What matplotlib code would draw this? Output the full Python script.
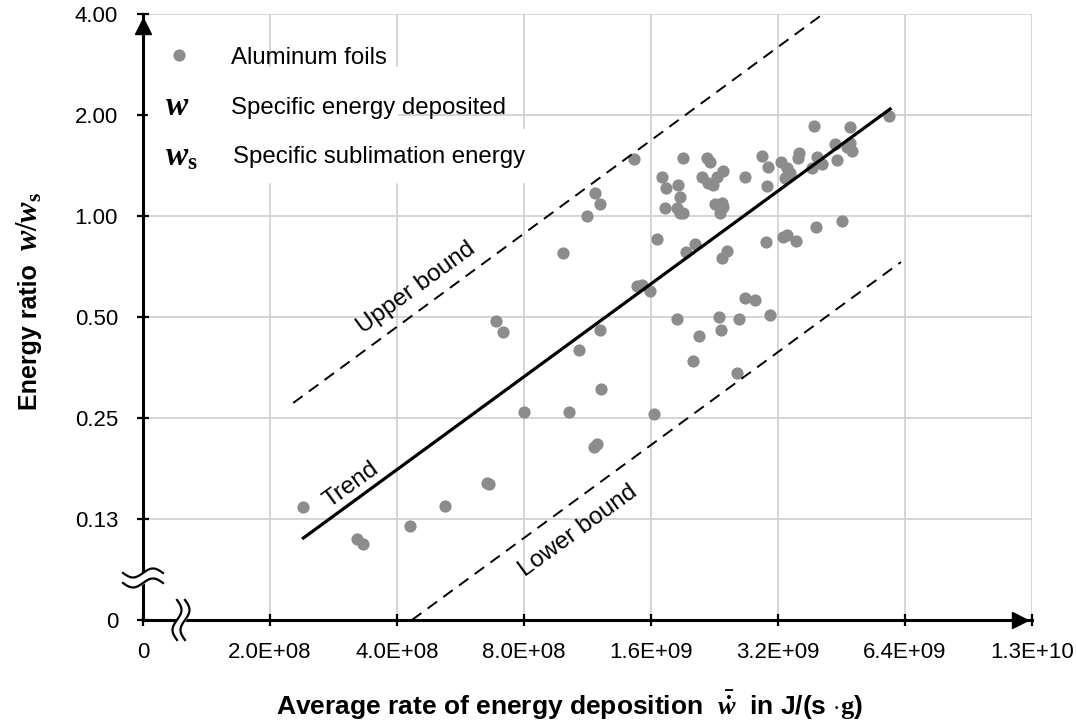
import numpy as np
import matplotlib
matplotlib.use("Agg")
import matplotlib.pyplot as plt
from matplotlib.patches import Rectangle

plt.rcParams['font.family'] = ['Liberation Sans', 'DejaVu Sans']
plt.rcParams['mathtext.fontset'] = 'custom'
plt.rcParams['mathtext.it'] = 'Liberation Serif:italic:bold'
plt.rcParams['mathtext.rm'] = 'Liberation Serif:bold'
plt.rcParams['mathtext.bf'] = 'Liberation Serif:bold'

# aluminum foil measurements: rate in J/(s*g), energy ratio w/ws
rate = [5.86e9, 3.89e9, 4.74e9, 4.37e9, 4.74e9, 4.79e9, 4.66e9, 4.42e9, 4.07e9, 3.96e9,
        3.85e9, 3.59e9, 3.57e9, 3.25e9, 3.36e9, 3.42e9, 3.32e9, 2.93e9, 3.03e9, 3.01e9,
        2.67e9, 2.37e9, 2.17e9, 2.21e9, 2.11e9, 2.18e9, 2.24e9, 2.29e9, 2.27e9, 2.36e9,
        2.37e9, 2.33e9, 1.91e9, 1.70e9, 1.74e9, 1.85e9, 1.87e9, 1.73e9, 1.84e9, 1.87e9,
        1.91e9, 1.46e9, 1.18e9, 1.21e9, 1.13e9, 9.90e8, 1.65e9, 1.94e9, 2.03e9, 2.36e9,
        2.42e9, 3.00e9, 3.29e9, 3.36e9, 3.53e9, 3.94e9, 4.54e9, 1.48e9, 1.52e9, 1.59e9,
        2.67e9, 2.82e9, 1.21e9, 1.08e9, 1.84e9, 2.32e9, 2.59e9, 3.06e9, 2.34e9, 2.08e9,
        2.01e9, 2.56e9, 1.22e9, 1.02e9, 1.63e9, 1.19e9, 1.17e9, 6.87e8, 7.14e8, 8.00e8,
        6.54e8, 6.61e8, 5.20e8, 2.39e8, 4.29e8, 3.22e8, 3.32e8]
ratio = [1.99, 1.854, 1.842, 1.639, 1.651, 1.563, 1.606, 1.468, 1.429, 1.499,
         1.390, 1.541, 1.489, 1.449, 1.390, 1.343, 1.298, 1.509, 1.400, 1.229,
         1.307, 1.362, 1.489, 1.449, 1.307, 1.254, 1.237, 1.307, 1.086, 1.093,
         1.064, 1.021, 1.489, 1.307, 1.212, 1.237, 1.139, 1.056, 1.056, 1.021,
         1.021, 1.479, 1.171, 1.086, 1.000, 0.776, 0.854, 0.781, 0.825, 0.750,
         0.786, 0.837, 0.866, 0.878, 0.842, 0.927, 0.966, 0.619, 0.623, 0.598,
         0.570, 0.562, 0.457, 0.399, 0.493, 0.500, 0.493, 0.507, 0.457, 0.439,
         0.370, 0.341, 0.305, 0.260, 0.257, 0.209, 0.205, 0.486, 0.451, 0.260,
         0.160, 0.159, 0.137, 0.136, 0.119, 0.109, 0.105]

trend_x, trend_y = [2.40e8, 5.90e9], [0.1097, 2.084]
upper_x, upper_y = [2.27e8, 4.09e9], [0.2771, 4.0]
lower_x, lower_y = [4.34e8, 6.26e9], [0.0625, 0.729]

xticks = [1e8, 2e8, 4e8, 8e8, 1.6e9, 3.2e9, 6.4e9, 1.28e10]
xlabels = ["0", "2.0E+08", "4.0E+08", "8.0E+08", "1.6E+09", "3.2E+09", "6.4E+09", "1.3E+10"]
yticks = [0.0625, 0.125, 0.25, 0.5, 1, 2, 4]
ylabels = ["0", "0.13", "0.25", "0.50", "1.00", "2.00", "4.00"]

fig = plt.figure(figsize=(10.76, 7.22), dpi=100)
ax = fig.add_axes([0.1329, 0.1413, 0.8262, 0.8393])
ax.set_xscale('log', base=2)
ax.set_yscale('log', base=2)
ax.set_xlim(xticks[0], xticks[-1])
ax.set_ylim(yticks[0], yticks[-1])
ax.set_xticks(xticks, xlabels)
ax.set_yticks(yticks, ylabels)
ax.minorticks_off()
ax.grid(True, color='#d2d2d2', lw=1.3, zorder=0)
ax.set_axisbelow(True)

for s in ['top', 'right']:
    ax.spines[s].set_visible(False)
for s in ['left', 'bottom']:
    ax.spines[s].set_linewidth(2.2)
ax.tick_params(direction='inout', length=9, width=1.6, labelsize=16, colors='black')
ax.tick_params(axis='x', pad=11)
ax.tick_params(axis='y', pad=13.5)

ax.plot(rate, ratio, 'o', color='#8c8c8c', ms=8.8, mec='none', zorder=3)
ax.plot(trend_x, trend_y, '-', color='black', lw=2.3, zorder=4)
ax.plot(upper_x, upper_y, '--', color='black', lw=1.4, dashes=(6, 4), zorder=4)
ax.plot(lower_x, lower_y, '--', color='black', lw=1.4, dashes=(6, 4), zorder=4)

# arrow heads on axes
ax.plot(0.9865, 0, marker='>', color='black', ms=11, transform=ax.transAxes, clip_on=False, zorder=6)
ax.plot(0, 0.980, marker='^', color='black', ms=11, transform=ax.transAxes, clip_on=False, zorder=6)

# axis break marks
W, H = 889.0, 606.0
t = np.linspace(-1, 1, 60)
yb = (620 - 578) / H
a = 20 * t / W
top = yb + (5 + 4.5 * np.sin(np.pi * t)) / H
bot = yb + (-5 + 4.5 * np.sin(np.pi * t)) / H
ax.fill_between(a, bot, top, color='white', transform=ax.transAxes, clip_on=False, zorder=7)
ax.plot(a, top, color='black', lw=1.6, transform=ax.transAxes, clip_on=False, zorder=8)
ax.plot(a, bot, color='black', lw=1.6, transform=ax.transAxes, clip_on=False, zorder=8)
xb = (181 - 143) / W
b = 20 * t / H
left = xb + (-4 + 4.5 * np.sin(np.pi * t)) / W
right = xb + (4 + 4.5 * np.sin(np.pi * t)) / W
ax.fill_betweenx(b, left, right, color='white', transform=ax.transAxes, clip_on=False, zorder=7)
ax.plot(left, b, color='black', lw=1.6, transform=ax.transAxes, clip_on=False, zorder=8)
ax.plot(right, b, color='black', lw=1.6, transform=ax.transAxes, clip_on=False, zorder=8)

# legend box
ax.add_patch(Rectangle((0.006, 0.723), 0.28, 0.19, transform=ax.transAxes, color='white', zorder=1))
ax.add_patch(Rectangle((0.006, 0.723), 0.44, 0.088, transform=ax.transAxes, color='white', zorder=1))
ax.plot(0.0405, 0.932, 'o', color='#8c8c8c', ms=8.8, mec='none', transform=ax.transAxes, zorder=3)
ax.text(0.099, 0.927, "Aluminum foils", fontsize=17.3, va='center', transform=ax.transAxes)
ax.text(0.0383, 0.847, r"$w$", fontsize=24, ha='center', va='center', transform=ax.transAxes)
ax.text(0.099, 0.845, "Specific energy deposited", fontsize=17.3, va='center', transform=ax.transAxes)
ax.text(0.0436, 0.764, r"$w_{\mathrm{s}}$", fontsize=24, ha='center', va='center', transform=ax.transAxes)
ax.text(0.101, 0.764, "Specific sublimation energy", fontsize=17.3, va='center', transform=ax.transAxes)

# line labels
ax.text(0.307, 0.548, "Upper bound", fontsize=17.5, rotation=36, ha='center', va='center',
        rotation_mode='anchor', transform=ax.transAxes)
ax.text(0.234, 0.223, "Trend", fontsize=17.5, rotation=36, ha='center', va='center',
        rotation_mode='anchor', transform=ax.transAxes)
ax.text(0.490, 0.147, "Lower bound", fontsize=17.5, rotation=36, ha='center', va='center',
        rotation_mode='anchor', transform=ax.transAxes)

# axis titles
fig.text(30 / 1076, 1 - 337 / 722, "Energy ratio", fontsize=18, fontweight='bold', rotation=90,
         ha='center', va='center')
fig.text(30 / 1076, 1 - 222 / 722, r"$w/w_{\mathrm{s}}$", fontsize=22, rotation=90,
         ha='center', va='center')
fig.text(569 / 1076, 1 - 705 / 722,
         r"Average rate of energy deposition  $\bar{\dot{w}}$  in J/(s $\cdot\mathrm{g}$)",
         fontsize=19, fontweight='bold', ha='center', va='center')

fig.savefig("out.png", dpi=100)
